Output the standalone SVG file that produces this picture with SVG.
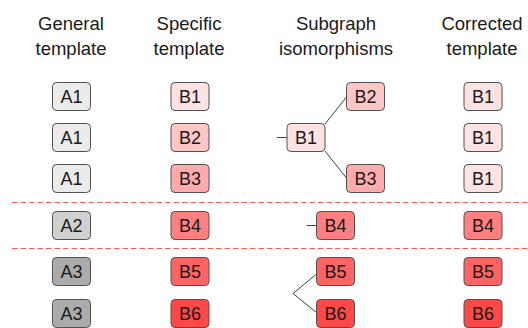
<svg xmlns="http://www.w3.org/2000/svg" width="528" height="328" viewBox="0 0 528 328">
<style>
text{font-family:"Liberation Sans",Arial,sans-serif;font-size:18px;fill:#1a1a1a;text-anchor:middle}
.h{font-size:18.5px}
rect{stroke:#505050;stroke-width:1;rx:4;ry:4}
.a1{fill:#ebebeb}.a2{fill:#d0d0d0}.a3{fill:#ababab}
.b1{fill:#ffe2e2}.b2{fill:#ffc6c6}.b3{fill:#ffabab}.b4{fill:#ff8080}.b5{fill:#ff6464}.b6{fill:#ff4848}
.e{stroke:#404040;stroke-width:1;fill:none}
.d{stroke:#ff5a5a;stroke-width:1.2;stroke-dasharray:5.5 3;fill:none}
</style>
<g id="headers">
<text class="h" x="71" y="30">General</text><text class="h" x="71" y="55">template</text>
<text class="h" x="189" y="30">Specific</text><text class="h" x="189" y="55">template</text>
<text class="h" x="336" y="30">Subgraph</text><text class="h" x="336" y="55">isomorphisms</text>
<text class="h" x="482" y="30">Corrected</text><text class="h" x="482" y="55">template</text>
</g>
<g id="separators">
<line class="d" x1="12" y1="202.5" x2="528" y2="202.5"/>
<line class="d" x1="12" y1="248.5" x2="528" y2="248.5"/>
</g>
<g id="connectors">
<line class="e" x1="277" y1="137.5" x2="287" y2="137.5"/>
<line class="e" x1="325" y1="124" x2="346.5" y2="97"/>
<line class="e" x1="325" y1="151" x2="346.5" y2="178"/>
<line class="e" x1="306.5" y1="225.5" x2="316.5" y2="225.5"/>
<polyline class="e" points="316.5,274 293,293.5 316.5,312.5"/>
</g>
<g id="gA1a"><rect class="a1" x="52.5" y="82.5" width="38" height="28"/><text x="71.5" y="103">A1</text></g>
<g id="gA1b"><rect class="a1" x="52.5" y="123.5" width="38" height="28"/><text x="71.5" y="144">A1</text></g>
<g id="gA1c"><rect class="a1" x="52.5" y="164.5" width="38" height="28"/><text x="71.5" y="185">A1</text></g>
<g id="gA2"><rect class="a2" x="52.5" y="211.5" width="38" height="28"/><text x="71.5" y="232">A2</text></g>
<g id="gA3a"><rect class="a3" x="52.5" y="257.5" width="38" height="28"/><text x="71.5" y="278">A3</text></g>
<g id="gA3b"><rect class="a3" x="52.5" y="299.5" width="38" height="28"/><text x="71.5" y="320">A3</text></g>

<g id="sB1"><rect class="b1" x="171" y="82.5" width="38" height="28"/><text x="190" y="103">B1</text></g>
<g id="sB2"><rect class="b2" x="171" y="123.5" width="38" height="28"/><text x="190" y="144">B2</text></g>
<g id="sB3"><rect class="b3" x="171" y="164.5" width="38" height="28"/><text x="190" y="185">B3</text></g>
<g id="sB4"><rect class="b4" x="171" y="211.5" width="38" height="28"/><text x="190" y="232">B4</text></g>
<g id="sB5"><rect class="b5" x="171" y="257.5" width="38" height="28"/><text x="190" y="278">B5</text></g>
<g id="sB6"><rect class="b6" x="171" y="299.5" width="38" height="28"/><text x="190" y="320">B6</text></g>

<g id="iB2"><rect class="b2" x="346.5" y="82.5" width="38" height="28"/><text x="365.5" y="103">B2</text></g>
<g id="iB1"><rect class="b1" x="287" y="123.5" width="38" height="28"/><text x="306" y="144">B1</text></g>
<g id="iB3"><rect class="b3" x="346.5" y="164.5" width="38" height="28"/><text x="365.5" y="185">B3</text></g>
<g id="iB4"><rect class="b4" x="316.5" y="211.5" width="38" height="28"/><text x="335.5" y="232">B4</text></g>
<g id="iB5"><rect class="b5" x="316.5" y="257.5" width="38" height="28"/><text x="335.5" y="278">B5</text></g>
<g id="iB6"><rect class="b6" x="316.5" y="299.5" width="38" height="28"/><text x="335.5" y="320">B6</text></g>

<g id="cB1a"><rect class="b1" x="464" y="82.5" width="38" height="28"/><text x="483" y="103">B1</text></g>
<g id="cB1b"><rect class="b1" x="464" y="123.5" width="38" height="28"/><text x="483" y="144">B1</text></g>
<g id="cB1c"><rect class="b1" x="464" y="164.5" width="38" height="28"/><text x="483" y="185">B1</text></g>
<g id="cB4"><rect class="b4" x="464" y="211.5" width="38" height="28"/><text x="483" y="232">B4</text></g>
<g id="cB5"><rect class="b5" x="464" y="257.5" width="38" height="28"/><text x="483" y="278">B5</text></g>
<g id="cB6"><rect class="b6" x="464" y="299.5" width="38" height="28"/><text x="483" y="320">B6</text></g>
</svg>
